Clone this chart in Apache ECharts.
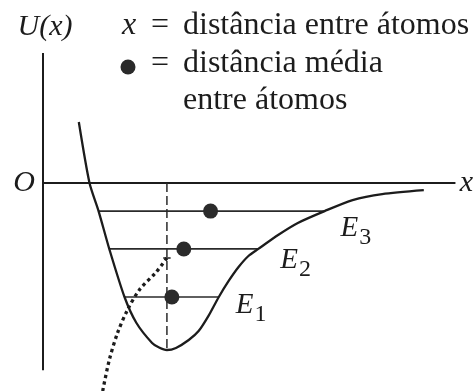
<!DOCTYPE html>
<html>
<head>
<meta charset="utf-8">
<script src="https://cdn.jsdelivr.net/npm/echarts@6/dist/echarts.min.js"></script>
<style>
  html, body { margin: 0; padding: 0; background: #fff; }
  #chart { width: 476px; height: 391px; }
</style>
</head>
<body>
<div id="chart"></div>
<script>
// Potential energy U(x) of two bonded atoms (arbitrary units)
const curveX = [0.87, 1.13, 1.35, 1.61, 1.98, 2.27, 2.65, 2.82, 3.01, 3.23, 3.54, 3.78, 4.02, 4.27, 4.51, 4.75, 4.99, 5.23, 5.71, 6.19, 6.84, 7.52, 8.24, 9.25];
const curveU = [2.93, 0, -1.35, -3.17, -5.48, -6.73, -7.69, -7.91, -8.03, -7.93, -7.55, -7.12, -6.39, -5.48, -4.71, -4.04, -3.51, -3.17, -2.50, -1.92, -1.35, -0.82, -0.53, -0.34];

// Vibrational energy levels E1, E2, E3 and their turning points
const levelNames = ['1', '2', '3'];
const levelU = [-5.48, -3.17, -1.35];
const levelXMin = [1.98, 1.61, 1.35];
const levelXMax = [4.27, 5.23, 6.84];

// Mean interatomic distance on each level
const meanX = [3.13, 3.42, 4.07];

// Equilibrium separation (bottom of the well)
const eqX = 3.01;
const eqU = -8.03;

// Dotted guide curve through the well, with a short cap at its upper end
const guideX = [3.01, 2.75, 2.34, 2.05, 1.81, 1.61, 1.45];
const guideU = [-3.61, -4.28, -5.14, -6.11, -7.21, -8.51, -10.0];
const guideCapX = [2.92, 3.10];

// Drawn extent of the U axis
const uAxisRange = [-9, 6.25];

const ink = '#1c1c1c';
const serif = '"Liberation Serif", "DejaVu Serif", serif';

const zip = (xs, ys) => xs.map((x, i) => [x, ys[i]]);

// Offsets of the E labels from the right end of each level line
const labelOffsets = [[17, 8], [22, 11], [16, 17]];

const levelSeries = levelU.map((u, i) => ({
  type: 'line',
  data: [[levelXMin[i], u], [levelXMax[i], u]],
  symbol: 'none',
  lineStyle: { color: '#2a2a2a', width: 1.7 },
  endLabel: {
    show: true,
    distance: 0,
    offset: labelOffsets[i],
    formatter: () => '{e|E}{s|' + levelNames[i] + '}',
    rich: {
      e: { fontFamily: serif, fontStyle: 'italic', fontSize: 29, lineHeight: 29, color: ink, verticalAlign: 'top' },
      s: { fontFamily: serif, fontSize: 24, lineHeight: 24, color: ink, verticalAlign: 'top', padding: [12, 0, 0, 1] }
    }
  },
  z: 3
}));

const chart = echarts.init(document.getElementById('chart'), null, { renderer: 'canvas' });

chart.setOption({
  animation: false,
  backgroundColor: '#fff',
  grid: { left: 43, right: 18, top: 37.4, height: 353.6, containLabel: false },
  xAxis: {
    type: 'value',
    min: 0,
    max: 10,
    axisLine: { show: true, onZero: true, lineStyle: { color: ink, width: 2 } },
    axisTick: { show: false },
    axisLabel: { show: false },
    splitLine: { show: false },
    name: 'x',
    nameLocation: 'end',
    nameGap: 5,
    nameTextStyle: { fontFamily: serif, fontStyle: 'italic', fontSize: 30, color: ink, padding: [0, 0, 6, 0] }
  },
  yAxis: {
    type: 'value',
    min: -10,
    max: 7,
    interval: 1,
    axisLine: { show: false },
    axisTick: { show: false },
    splitLine: { show: false },
    axisLabel: {
      margin: 8,
      formatter: v => (v === 0 ? 'O' : ''),
      fontFamily: serif,
      fontStyle: 'italic',
      fontSize: 30,
      color: ink
    },
    name: 'U(x)',
    nameLocation: 'end',
    nameGap: -5,
    nameTextStyle: { fontFamily: serif, fontStyle: 'italic', fontSize: 30, color: ink, padding: [0, 0, 0, 4] }
  },
  graphic: [
    { type: 'text', x: 122, y: 26, style: { text: 'x', font: 'italic 32px ' + serif, fill: ink, align: 'left', verticalAlign: 'middle' } },
    { type: 'text', x: 151, y: 26, style: { text: '=', font: '32px ' + serif, fill: ink, align: 'left', verticalAlign: 'middle' } },
    { type: 'text', x: 183, y: 26, style: { text: 'distância entre átomos', font: '32px ' + serif, fill: ink, align: 'left', verticalAlign: 'middle' } },
    { type: 'circle', shape: { cx: 128, cy: 67, r: 7.5 }, style: { fill: '#2a2a2a' } },
    { type: 'text', x: 151, y: 64, style: { text: '=', font: '32px ' + serif, fill: ink, align: 'left', verticalAlign: 'middle' } },
    { type: 'text', x: 183, y: 64, style: { text: 'distância média', font: '32px ' + serif, fill: ink, align: 'left', verticalAlign: 'middle' } },
    { type: 'text', x: 183, y: 101, style: { text: 'entre átomos', font: '32px ' + serif, fill: ink, align: 'left', verticalAlign: 'middle' } }
  ],
  series: [
    {
      // vertical U axis
      type: 'line',
      data: [[0, uAxisRange[0]], [0, uAxisRange[1]]],
      symbol: 'none',
      lineStyle: { color: ink, width: 2 },
      z: 2
    },
    {
      // potential energy curve
      type: 'line',
      data: zip(curveX, curveU),
      symbol: 'none',
      smooth: 0.25,
      lineStyle: { color: ink, width: 2.3 },
      z: 4
    },
    ...levelSeries,
    {
      // equilibrium separation
      type: 'line',
      data: [[eqX, 0], [eqX, eqU]],
      symbol: 'none',
      lineStyle: { color: '#2a2a2a', width: 1.5, type: [9, 4] },
      z: 2
    },
    {
      // dotted guide
      type: 'line',
      data: zip(guideX, guideU),
      symbol: 'none',
      smooth: 0.3,
      lineStyle: { color: ink, width: 3.3, type: [3.3, 3.4] },
      z: 3
    },
    {
      // cap at the top of the dotted guide
      type: 'line',
      data: guideCapX.map(x => [x, guideU[0]]),
      symbol: 'none',
      lineStyle: { color: ink, width: 1.5 },
      z: 3
    },
    {
      // mean distances
      type: 'scatter',
      data: zip(meanX, levelU),
      symbol: 'circle',
      symbolSize: 15,
      itemStyle: { color: '#2b2b2b', opacity: 1 },
      z: 5
    }
  ]
});
</script>
</body>
</html>
